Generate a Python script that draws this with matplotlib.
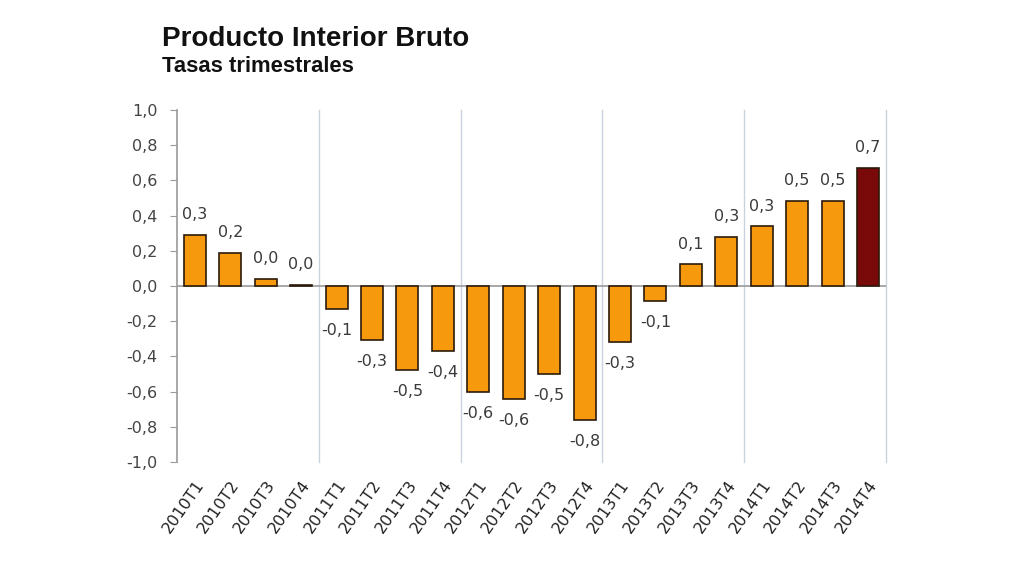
import numpy as np
import matplotlib.pyplot as plt

# Producto Interior Bruto, tasas trimestrales
periods = ['2010T1', '2010T2', '2010T3', '2010T4',
           '2011T1', '2011T2', '2011T3', '2011T4',
           '2012T1', '2012T2', '2012T3', '2012T4',
           '2013T1', '2013T2', '2013T3', '2013T4',
           '2014T1', '2014T2', '2014T3', '2014T4']
values = [0.29, 0.19, 0.04, 0.005,
          -0.13, -0.305, -0.475, -0.37,
          -0.60, -0.64, -0.50, -0.76,
          -0.32, -0.087, 0.123, 0.28,
          0.34, 0.485, 0.485, 0.67]
labels = ['0,3', '0,2', '0,0', '0,0',
          '-0,1', '-0,3', '-0,5', '-0,4',
          '-0,6', '-0,6', '-0,5', '-0,8',
          '-0,3', '-0,1', '0,1', '0,3',
          '0,3', '0,5', '0,5', '0,7']
yticks = np.arange(-1.0, 1.01, 0.2)

orange = '#F7990D'
darkred = '#7A0A0A'
colors = [orange] * (len(values) - 1) + [darkred]

fig = plt.figure(figsize=(10.24, 5.76), dpi=100)
ax = fig.add_axes([0.173, 0.198, 0.692, 0.611])

x = np.arange(len(values))
ax.bar(x, values, width=0.62, color=colors, edgecolor='#2b1a0a', linewidth=1.2, zorder=3)

for xi, v, lab in zip(x, values, labels):
    off = 14.5 if v >= 0 else -15.5
    ax.annotate(lab, (xi, v), xytext=(0, off), textcoords='offset points',
                ha='center', va='center', fontsize=11.5, color='#3a3a3a')

ax.set_xlim(-0.5, len(values) - 0.5)
ax.set_ylim(-1.0, 1.0)
ax.set_yticks(yticks)
ax.set_yticklabels([f'{t:.1f}'.replace('.', ',').replace('-0,0', '0,0') for t in yticks],
                   fontsize=11.5, color='#444444')

# year separators, including the right edge
for b in np.arange(3.5, len(values), 4):
    ax.axvline(b, color='#c9d2de', linewidth=1, zorder=1, clip_on=False)
ax.axhline(0, color='#9a9a9a', linewidth=1.2, zorder=2)

ax.set_xticks(x)
ax.set_xticklabels(periods, rotation=55, ha='right', rotation_mode='anchor',
                   fontsize=11.5, color='#222222')
ax.tick_params(axis='x', length=0, pad=11)
ax.tick_params(axis='y', length=5, color='#9a9a9a', direction='out', pad=9)

for s in ['top', 'right', 'bottom']:
    ax.spines[s].set_visible(False)
ax.spines['left'].set_color('#9a9a9a')
ax.spines['left'].set_linewidth(1.2)

fig.text(162 / 1024, 1 - 46.5 / 576, 'Producto Interior Bruto', fontsize=20,
         family='Liberation Sans', fontweight='bold', color='#111111', va='baseline')
fig.text(162 / 1024, 1 - 72.5 / 576, 'Tasas trimestrales', fontsize=15.8,
         family='Liberation Sans', fontweight='bold', color='#111111', va='baseline')

fig.savefig('out.png', dpi=100, facecolor='white')
